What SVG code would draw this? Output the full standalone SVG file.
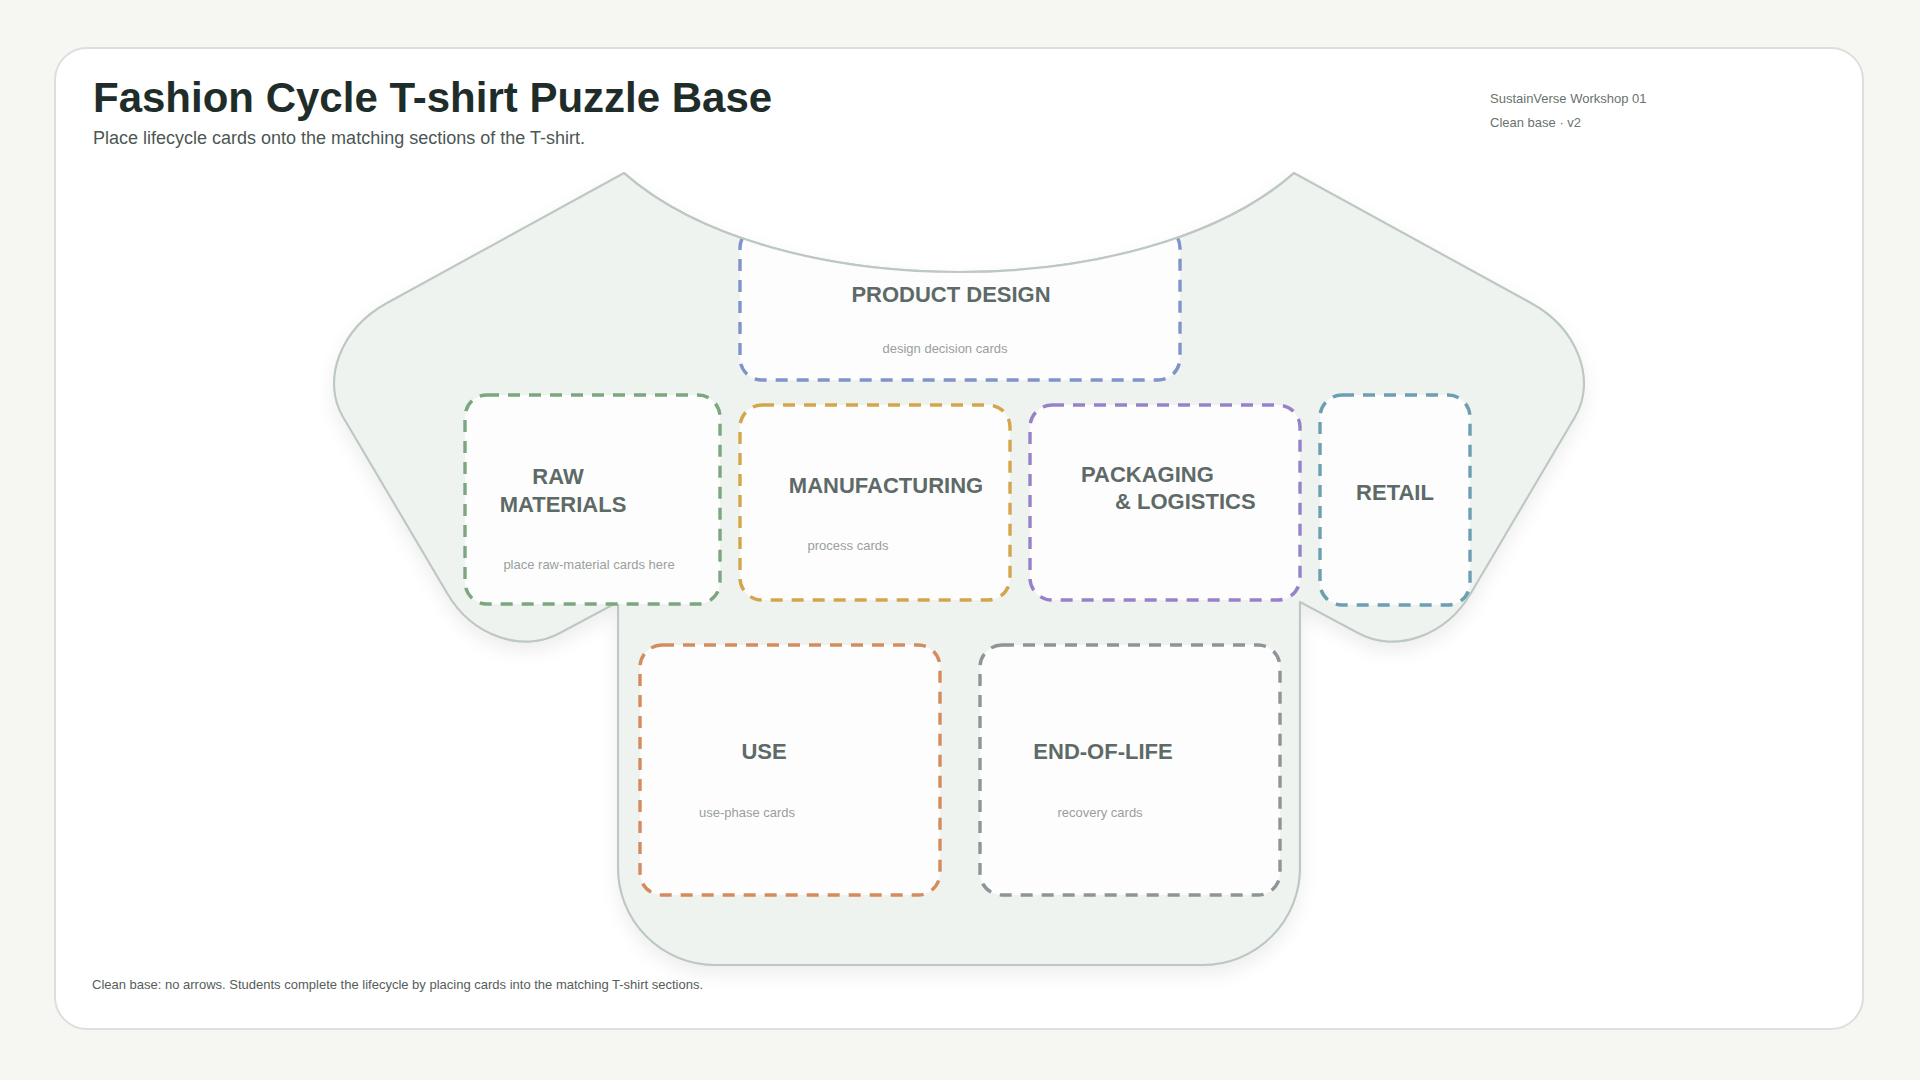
<svg xmlns="http://www.w3.org/2000/svg" width="1920" height="1080" viewBox="0 0 1920 1080">
<defs>
<style>
.title{font-family:"Liberation Sans",Arial,sans-serif;font-weight:bold;font-size:42px;fill:#1f2d2a}
.sub{font-family:"Liberation Sans",Arial,sans-serif;font-size:18px;fill:#4c5754}
.meta{font-family:"Liberation Sans",Arial,sans-serif;font-size:13px;fill:#6b7270}
.foot{font-family:"Liberation Sans",Arial,sans-serif;font-size:13px;fill:#555d5b}
.lbl{font-family:"Liberation Sans",Arial,sans-serif;font-weight:bold;font-size:22px;fill:#5e6a67}
.hint{font-family:"Liberation Sans",Arial,sans-serif;font-size:13px;fill:#9a9f9e}
.zone{fill:#fdfdfd;stroke-width:3.4;stroke-dasharray:12 9}
</style>
<filter id="shadow" x="-10%" y="-10%" width="120%" height="130%">
<feDropShadow dx="0" dy="8" stdDeviation="9" flood-color="#000" flood-opacity="0.07"/>
</filter>
<clipPath id="shirtClip">
<path d="M624,173 C774,305 1144,305 1294,173 L1531,303 C1577.2,328.3 1597,379.6 1575,417 L1471,593 C1446.2,635.9 1395.4,653.8 1358,633 L1300,602 L1300,868 A97,97 0 0 1 1203,965 L715,965 A97,97 0 0 1 618,868 L618,602 L560,633 C522.6,653.8 471.8,635.9 447,593 L343,417 C321,379.6 340.8,328.3 387,303 Z"/>
</clipPath>
</defs>
<rect x="0" y="0" width="1920" height="1080" fill="#f6f6f3"/>
<rect x="55" y="48" width="1808" height="981" rx="32" fill="#ffffff" stroke="#dddfdc" stroke-width="2"/>
<g id="header">
<text class="title" x="93" y="112">Fashion Cycle T-shirt Puzzle Base</text>
<text class="sub" x="93" y="144">Place lifecycle cards onto the matching sections of the T-shirt.</text>
<text class="meta" x="1490" y="103">SustainVerse Workshop 01</text>
<text class="meta" x="1490" y="127">Clean base · v2</text>
</g>
<g id="tshirt">
<path d="M624,173 C774,305 1144,305 1294,173 L1531,303 C1577.2,328.3 1597,379.6 1575,417 L1471,593 C1446.2,635.9 1395.4,653.8 1358,633 L1300,602 L1300,868 A97,97 0 0 1 1203,965 L715,965 A97,97 0 0 1 618,868 L618,602 L560,633 C522.6,653.8 471.8,635.9 447,593 L343,417 C321,379.6 340.8,328.3 387,303 Z" fill="#eef3f0" stroke="#bec8c3" stroke-width="2.2" stroke-linejoin="round" filter="url(#shadow)"/>
</g>
<g id="product-design">
<rect class="zone" x="740" y="226" width="440" height="154" rx="22" stroke="#8093cb" clip-path="url(#shirtClip)"/>
<path d="M624,173 C774,305 1144,305 1294,173" fill="none" stroke="#bec8c3" stroke-width="2.2"/>
<text class="lbl" x="951" y="302" text-anchor="middle">PRODUCT DESIGN</text>
<text class="hint" x="945" y="353" text-anchor="middle">design decision cards</text>
</g>
<g id="raw-materials">
<rect class="zone" x="465" y="395" width="255" height="209" rx="22" stroke="#7ba67f"/>
<text class="lbl" x="558" y="484" text-anchor="middle">RAW</text>
<text class="lbl" x="563" y="512" text-anchor="middle">MATERIALS</text>
<text class="hint" x="589" y="569" text-anchor="middle">place raw-material cards here</text>
</g>
<g id="manufacturing">
<rect class="zone" x="740" y="405" width="270" height="195" rx="22" stroke="#d4a64c"/>
<text class="lbl" x="886" y="493" text-anchor="middle">MANUFACTURING</text>
<text class="hint" x="848" y="550" text-anchor="middle">process cards</text>
</g>
<g id="packaging-logistics">
<rect class="zone" x="1030" y="405" width="270" height="195" rx="22" stroke="#9782c9"/>
<text class="lbl" x="1081" y="482">PACKAGING</text>
<text class="lbl" x="1115" y="509">&amp; LOGISTICS</text>
</g>
<g id="retail">
<rect class="zone" x="1320" y="395" width="150" height="210" rx="22" stroke="#6c9fb2"/>
<text class="lbl" x="1395" y="500" text-anchor="middle">RETAIL</text>
</g>
<g id="use">
<rect class="zone" x="640" y="645" width="300" height="250" rx="22" stroke="#d48c5c"/>
<text class="lbl" x="764" y="759" text-anchor="middle">USE</text>
<text class="hint" x="747" y="817" text-anchor="middle">use-phase cards</text>
</g>
<g id="end-of-life">
<rect class="zone" x="980" y="645" width="300" height="250" rx="22" stroke="#8d9598"/>
<text class="lbl" x="1103" y="759" text-anchor="middle">END-OF-LIFE</text>
<text class="hint" x="1100" y="817" text-anchor="middle">recovery cards</text>
</g>
<g id="connectors"></g>
<g id="footer">
<text class="foot" x="92" y="989">Clean base: no arrows. Students complete the lifecycle by placing cards into the matching T-shirt sections.</text>
</g>
</svg>
